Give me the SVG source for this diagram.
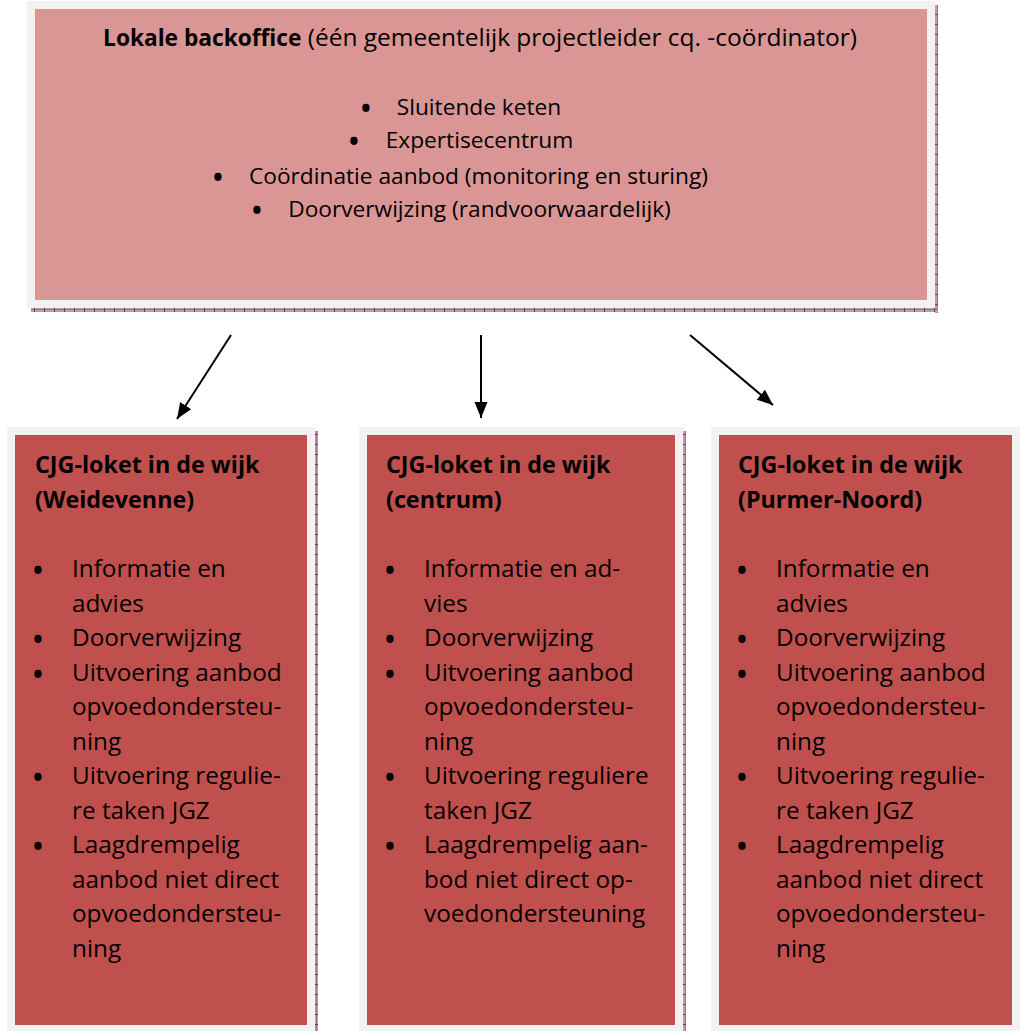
<svg xmlns="http://www.w3.org/2000/svg" width="1020" height="1031" viewBox="0 0 1020 1031">
<style>
.frame{fill:#F2F2F2}
.pink{fill:#D99694}
.red{fill:#C0504D}
.t{font-family:"Open Sans","Liberation Sans",sans-serif;fill:#000}
.top{font-size:22.7px}
.bot{font-size:24.3px}
.ttl{font-size:23.3px;font-weight:bold}
.b{font-weight:bold}
.bul{font-family:"Open Sans","Liberation Sans",sans-serif;font-size:26px;font-weight:bold;text-anchor:middle;fill:#000}
.conn{stroke:#000;stroke-width:2;fill:none}
</style>
<defs>
<pattern id="shV" width="3" height="10" patternUnits="userSpaceOnUse">
<rect width="3" height="10" fill="#b8a0a6"/>
<rect x="1" width="1" height="10" fill="#9a7480"/>
<rect y="4" width="3" height="1" fill="#6e3c4a"/>
</pattern>
<pattern id="shH" width="10" height="4" patternUnits="userSpaceOnUse">
<rect width="10" height="4" fill="#b8a0a6"/>
<rect y="1" width="10" height="1" fill="#9a7480"/>
<rect x="4" width="1" height="4" fill="#6e3c4a"/>
</pattern>
<marker id="ah" markerUnits="userSpaceOnUse" markerWidth="17" markerHeight="14" refX="16" refY="6.5" orient="auto">
<path d="M0,0 L16,6.5 L0,13 z" fill="#000"/>
</marker>
</defs>

<g id="backoffice">
<rect x="935" y="5" width="3" height="308" fill="url(#shV)"/>
<rect x="31" y="308" width="907" height="4" fill="url(#shH)"/>
<rect class="frame" x="27" y="1" width="908" height="307"/>
<rect class="pink" x="35" y="9" width="892" height="291"/>
<text class="t" x="480" y="46" text-anchor="middle"><tspan class="b" font-size="22.7">Lokale backoffice</tspan><tspan font-size="24.5"> (één gemeentelijk projectleider cq. -coördinator)</tspan></text>
<text class="bul" x="366" y="118">•</text>
<text class="t top" x="479" y="115" text-anchor="middle">Sluitende keten</text>
<text class="bul" x="354" y="151">•</text>
<text class="t top" x="479.5" y="148" text-anchor="middle">Expertisecentrum</text>
<text class="bul" x="218" y="187">•</text>
<text class="t top" x="478.5" y="184" text-anchor="middle">Coördinatie aanbod (monitoring en sturing)</text>
<text class="bul" x="257" y="220">•</text>
<text class="t top" x="479.5" y="217" text-anchor="middle">Doorverwijzing (randvoorwaardelijk)</text>
</g>

<g id="connectors">
<path class="conn" d="M231,335 L177,419" marker-end="url(#ah)"/>
<path class="conn" d="M481,335 L481,418" marker-end="url(#ah)"/>
<path class="conn" d="M690,335 L773,405" marker-end="url(#ah)"/>
</g>

<g id="loket-weidevenne">
<rect x="315" y="431" width="3" height="600" fill="url(#shV)"/>
<rect class="frame" x="7" y="427" width="308" height="606"/>
<rect class="red" x="15" y="435" width="292" height="590"/>
<text class="t ttl" x="35" y="473">CJG-loket in de wijk</text>
<text class="t ttl" x="35" y="507.5">(Weidevenne)</text>
<text class="bul" x="38" y="580">•</text>
<text class="bul" x="38" y="649">•</text>
<text class="bul" x="38" y="683.5">•</text>
<text class="bul" x="38" y="787">•</text>
<text class="bul" x="38" y="856">•</text>
<g class="t bot">
<text x="72" y="577">Informatie en</text>
<text x="72" y="611.5">advies</text>
<text x="72" y="646">Doorverwijzing</text>
<text x="72" y="680.5">Uitvoering aanbod</text>
<text x="72" y="715">opvoedondersteu-</text>
<text x="72" y="749.5">ning</text>
<text x="72" y="784">Uitvoering regulie-</text>
<text x="72" y="818.5">re taken JGZ</text>
<text x="72" y="853">Laagdrempelig</text>
<text x="72" y="887.5">aanbod niet direct</text>
<text x="72" y="922">opvoedondersteu-</text>
<text x="72" y="956.5">ning</text>
</g>
</g>

<g id="loket-centrum">
<rect x="683" y="431" width="3" height="600" fill="url(#shV)"/>
<rect class="frame" x="359" y="427" width="324" height="606"/>
<rect class="red" x="367" y="435" width="308" height="590"/>
<text class="t ttl" x="386" y="473">CJG-loket in de wijk</text>
<text class="t ttl" x="386" y="507.5">(centrum)</text>
<text class="bul" x="390" y="580">•</text>
<text class="bul" x="390" y="649">•</text>
<text class="bul" x="390" y="683.5">•</text>
<text class="bul" x="390" y="787">•</text>
<text class="bul" x="390" y="856">•</text>
<g class="t bot">
<text x="424" y="577">Informatie en ad-</text>
<text x="424" y="611.5">vies</text>
<text x="424" y="646">Doorverwijzing</text>
<text x="424" y="680.5">Uitvoering aanbod</text>
<text x="424" y="715">opvoedondersteu-</text>
<text x="424" y="749.5">ning</text>
<text x="424" y="784">Uitvoering reguliere</text>
<text x="424" y="818.5">taken JGZ</text>
<text x="424" y="853">Laagdrempelig aan-</text>
<text x="424" y="887.5">bod niet direct op-</text>
<text x="424" y="922">voedondersteuning</text>
</g>
</g>

<g id="loket-purmer-noord">
<rect class="frame" x="711" y="427" width="312" height="606"/>
<rect class="red" x="719" y="435" width="293" height="590"/>
<text class="t ttl" x="738" y="473">CJG-loket in de wijk</text>
<text class="t ttl" x="738" y="507.5">(Purmer-Noord)</text>
<text class="bul" x="742" y="580">•</text>
<text class="bul" x="742" y="649">•</text>
<text class="bul" x="742" y="683.5">•</text>
<text class="bul" x="742" y="787">•</text>
<text class="bul" x="742" y="856">•</text>
<g class="t bot">
<text x="776" y="577">Informatie en</text>
<text x="776" y="611.5">advies</text>
<text x="776" y="646">Doorverwijzing</text>
<text x="776" y="680.5">Uitvoering aanbod</text>
<text x="776" y="715">opvoedondersteu-</text>
<text x="776" y="749.5">ning</text>
<text x="776" y="784">Uitvoering regulie-</text>
<text x="776" y="818.5">re taken JGZ</text>
<text x="776" y="853">Laagdrempelig</text>
<text x="776" y="887.5">aanbod niet direct</text>
<text x="776" y="922">opvoedondersteu-</text>
<text x="776" y="956.5">ning</text>
</g>
</g>
</svg>
